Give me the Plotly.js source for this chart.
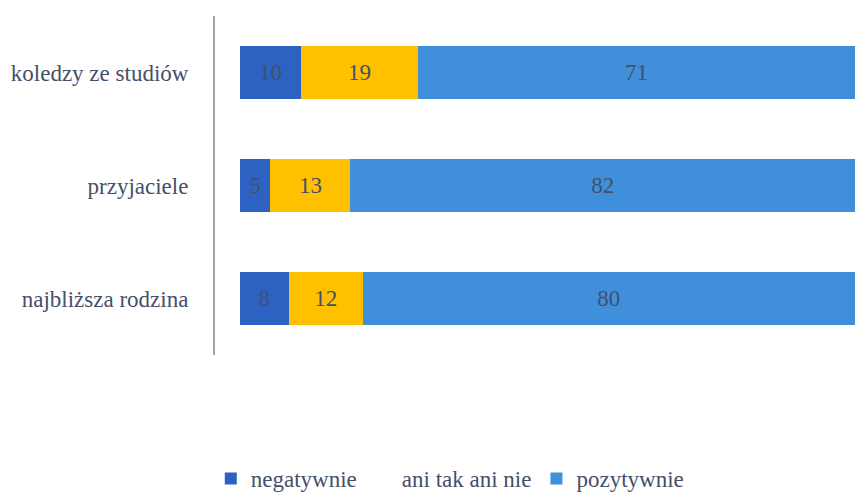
<!DOCTYPE html>
<html>
<head>
<meta charset="utf-8">
<script src="https://cdn.plot.ly/plotly-3.0.1.min.js"></script>
<style>html,body{margin:0;padding:0;background:#fff}#chart{width:860px;height:500px}</style>
</head>
<body>
<div id="chart"></div>
<script>
const categories = ["koledzy ze studiów", "przyjaciele", "najbliższa rodzina"];
const seriesNames = ["negatywnie", "ani tak ani nie", "pozytywnie"];
const negatywnie = [10, 5, 8];
const aniTakAniNie = [19, 13, 12];
const pozytywnie = [71, 82, 80];

const colors = ["#2d62c2", "#ffc000", "#3f8fda"];
const legendColors = ["#2d62c2", "rgba(255,255,255,0)", "#3f8fda"];
const values = [negatywnie, aniTakAniNie, pozytywnie];
const font = "Liberation Serif, Times New Roman, serif";
const textCol = "#44506a";

const traces = values.map((v, i) => ({
  type: "bar",
  orientation: "h",
  name: seriesNames[i],
  y: categories,
  x: v,
  width: 0.47,
  marker: {color: colors[i], line: {width: 0}},
  text: v.map(String),
  textposition: "inside",
  insidetextanchor: "middle",
  textfont: {family: font, size: 23, color: textCol},
  showlegend: false,
  hoverinfo: "skip"
}));
seriesNames.forEach((n, i) => traces.push({
  type: "bar", orientation: "h", name: n, x: [null], y: [categories[0]],
  marker: {color: legendColors[i]}, showlegend: true, hoverinfo: "skip"
}));

const layout = {
  width: 860, height: 500,
  margin: {l: 215, r: 5, t: 16, b: 145},
  paper_bgcolor: "#ffffff", plot_bgcolor: "#ffffff",
  barmode: "stack",
  font: {family: font, color: textCol, size: 23},
  xaxis: {range: [-4, 100], showgrid: false, zeroline: false, showticklabels: false, showline: false, fixedrange: true},
  yaxis: {type: "category", categoryorder: "array", categoryarray: categories.slice().reverse(),
          showline: true, linecolor: "#a6a6a6", linewidth: 2, ticks: "", ticklabelstandoff: 20,
          tickfont: {family: font, size: 23, color: textCol}, showgrid: false, zeroline: false},
  legend: {orientation: "h", xref: "container", yref: "container", x: 0.523, xanchor: "center",
           y: 0.0, yanchor: "bottom", font: {family: font, size: 23, color: textCol},
           itemwidth: 30, traceorder: "normal"},
  showlegend: true
};
Plotly.newPlot("chart", traces, layout, {displayModeBar: false, staticPlot: true});
</script>
</body>
</html>
